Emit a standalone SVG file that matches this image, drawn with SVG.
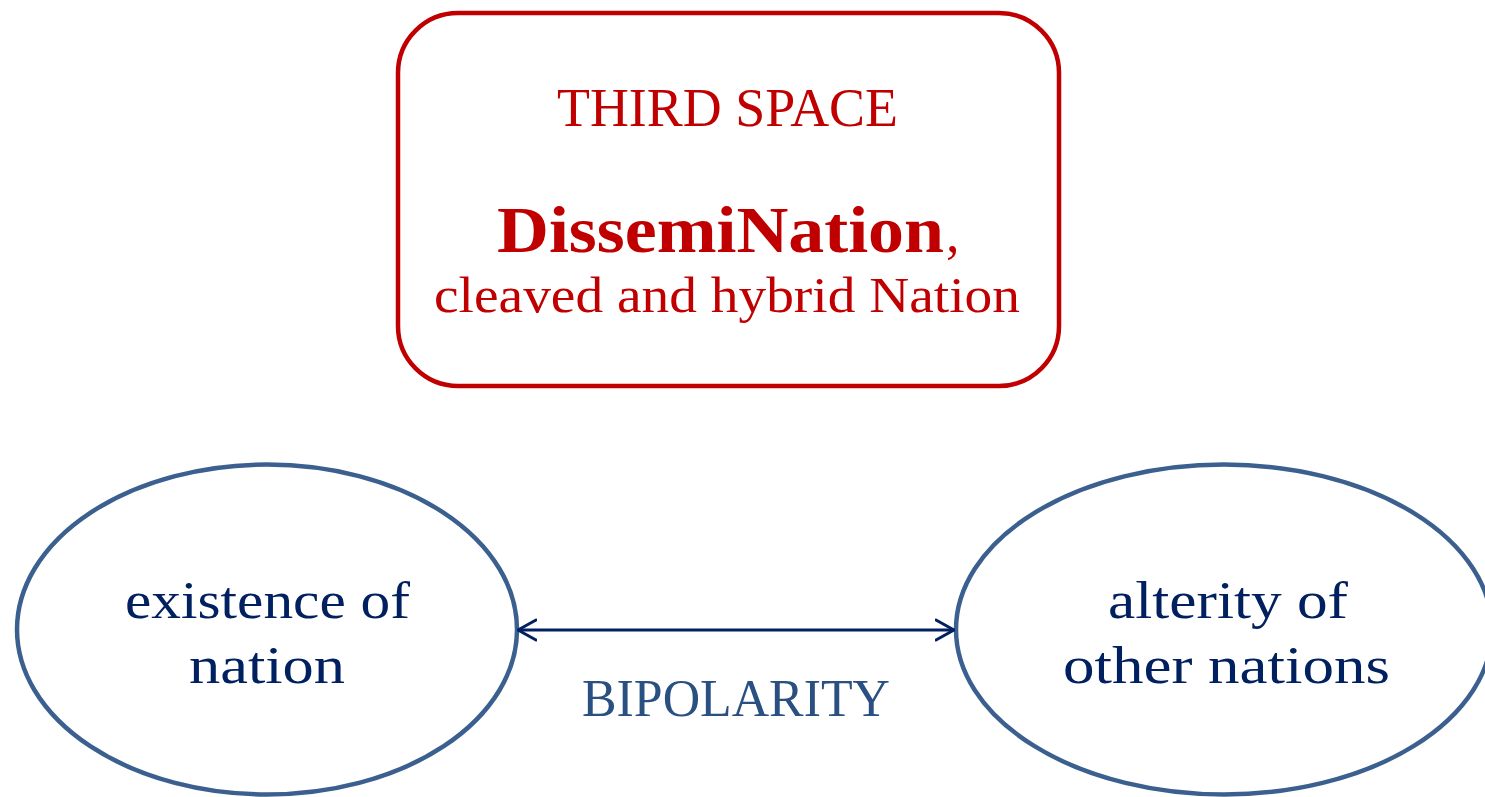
<svg xmlns="http://www.w3.org/2000/svg" width="1485" height="797" viewBox="0 0 1485 797">
<defs>
<style>
.red{fill:#C00000;font-family:"Liberation Serif","Times New Roman",serif}
.navy{fill:#002060;font-family:"Liberation Serif","Times New Roman",serif;font-size:53px}
.ell{fill:none;stroke:#3B5F8E;stroke-width:4.5}
.conn{stroke:#002060;stroke-width:3;fill:none}
</style>
<marker id="open" viewBox="0 0 20 24" refX="19" refY="12" markerWidth="20" markerHeight="24" markerUnits="userSpaceOnUse" orient="auto-start-reverse">
<path d="M1,2 L19,12 L1,22" fill="none" stroke="#002060" stroke-width="3" stroke-linecap="round" stroke-linejoin="round"/>
</marker>
</defs>
<rect width="1485" height="797" fill="#ffffff"/>
<g id="third-space">
<rect x="398" y="13" width="661" height="373" rx="60" ry="60" fill="none" stroke="#C00000" stroke-width="4.5"/>
<text class="red" x="557" y="126" font-size="54" textLength="341" lengthAdjust="spacingAndGlyphs">THIRD SPACE</text>
<text class="red" x="497" y="252" font-size="65" font-weight="bold" textLength="447" lengthAdjust="spacingAndGlyphs">DissemiNation</text>
<text class="red" x="946" y="252" font-size="54">,</text>
<text class="red" x="434" y="312" font-size="50" textLength="586" lengthAdjust="spacingAndGlyphs">cleaved and hybrid Nation</text>
</g>
<g id="existence">
<ellipse class="ell" cx="267" cy="629.5" rx="250" ry="165"/>
<text class="navy" x="125" y="618" textLength="285" lengthAdjust="spacingAndGlyphs">existence of</text>
<text class="navy" x="189" y="683" textLength="156" lengthAdjust="spacingAndGlyphs">nation</text>
</g>
<g id="alterity">
<ellipse class="ell" cx="1224" cy="629.5" rx="268" ry="165"/>
<text class="navy" x="1108" y="618" textLength="240" lengthAdjust="spacingAndGlyphs">alterity of</text>
<text class="navy" x="1063" y="683" textLength="327" lengthAdjust="spacingAndGlyphs">other nations</text>
</g>
<g id="connectors">
<line class="conn" x1="518" y1="630" x2="954" y2="630" marker-start="url(#open)" marker-end="url(#open)"/>
<text x="582" y="716" font-family="'Liberation Serif','Times New Roman',serif" font-size="53" fill="#2A5082" textLength="308" lengthAdjust="spacingAndGlyphs">BIPOLARITY</text>
</g>
</svg>
